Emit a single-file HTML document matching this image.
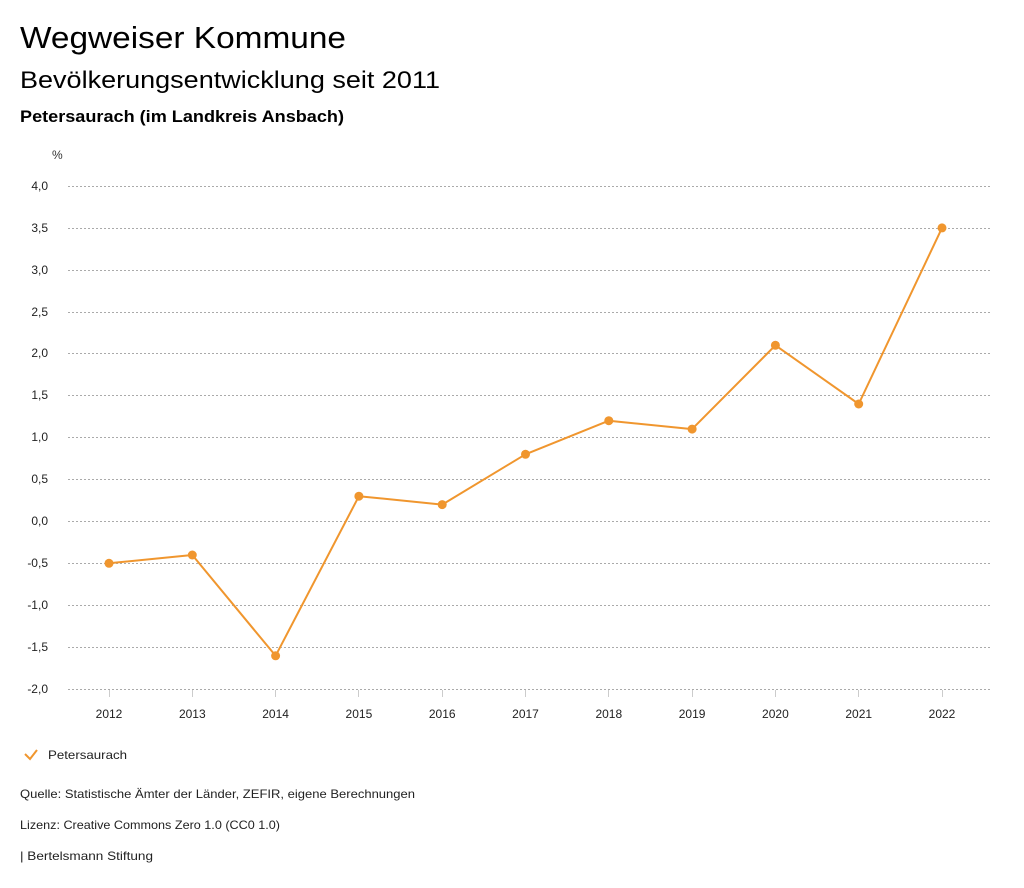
<!DOCTYPE html>
<html><head><meta charset="utf-8"><style>
body{margin:0;background:#fff;font-family:"Liberation Sans","DejaVu Sans",sans-serif;}
svg{display:block}
</style></head><body>
<svg width="1024" height="888" xmlns="http://www.w3.org/2000/svg" font-family="Liberation Sans, DejaVu Sans, sans-serif">
<text x="20" y="48" font-size="31" fill="#000" textLength="326" lengthAdjust="spacingAndGlyphs">Wegweiser Kommune</text>
<text x="20" y="88" font-size="24" fill="#000" textLength="420" lengthAdjust="spacingAndGlyphs">Bevölkerungsentwicklung seit 2011</text>
<text x="20" y="122" font-size="17" font-weight="bold" fill="#000" textLength="324" lengthAdjust="spacingAndGlyphs">Petersaurach (im Landkreis Ansbach)</text>
<text x="52" y="159" font-size="12" fill="#333">%</text>
<g stroke="#aaa" stroke-width="1" stroke-dasharray="2,2">
<line x1="68" x2="990" y1="186.5" y2="186.5"/><line x1="68" x2="990" y1="228.5" y2="228.5"/>
<line x1="68" x2="990" y1="270.5" y2="270.5"/><line x1="68" x2="990" y1="312.5" y2="312.5"/>
<line x1="68" x2="990" y1="353.5" y2="353.5"/><line x1="68" x2="990" y1="395.5" y2="395.5"/>
<line x1="68" x2="990" y1="437.5" y2="437.5"/><line x1="68" x2="990" y1="479.5" y2="479.5"/>
<line x1="68" x2="990" y1="521.5" y2="521.5"/><line x1="68" x2="990" y1="563.5" y2="563.5"/>
<line x1="68" x2="990" y1="605.5" y2="605.5"/><line x1="68" x2="990" y1="647.5" y2="647.5"/>
<line x1="68" x2="990" y1="689.5" y2="689.5"/>
</g>
<g font-size="12" fill="#222" text-anchor="end">
<text x="48" y="190">4,0</text><text x="48" y="232">3,5</text><text x="48" y="274">3,0</text>
<text x="48" y="316">2,5</text><text x="48" y="357">2,0</text><text x="48" y="399">1,5</text>
<text x="48" y="441">1,0</text><text x="48" y="483">0,5</text><text x="48" y="525">0,0</text>
<text x="48" y="567">-0,5</text><text x="48" y="609">-1,0</text><text x="48" y="651">-1,5</text>
<text x="48" y="693">-2,0</text>
</g>
<g stroke="#ccc" stroke-width="1">
<line x1="109.5" x2="109.5" y1="690" y2="697"/><line x1="192.5" x2="192.5" y1="690" y2="697"/>
<line x1="275.5" x2="275.5" y1="690" y2="697"/><line x1="358.5" x2="358.5" y1="690" y2="697"/>
<line x1="442.5" x2="442.5" y1="690" y2="697"/><line x1="525.5" x2="525.5" y1="690" y2="697"/>
<line x1="608.5" x2="608.5" y1="690" y2="697"/><line x1="692.5" x2="692.5" y1="690" y2="697"/>
<line x1="775.5" x2="775.5" y1="690" y2="697"/><line x1="858.5" x2="858.5" y1="690" y2="697"/>
<line x1="942.5" x2="942.5" y1="690" y2="697"/>
</g>
<g font-size="12" fill="#222" text-anchor="middle">
<text x="109" y="718">2012</text><text x="192.3" y="718">2013</text><text x="275.6" y="718">2014</text>
<text x="358.9" y="718">2015</text><text x="442.2" y="718">2016</text><text x="525.5" y="718">2017</text>
<text x="608.8" y="718">2018</text><text x="692.1" y="718">2019</text><text x="775.4" y="718">2020</text>
<text x="858.7" y="718">2021</text><text x="942" y="718">2022</text>
</g>
<polyline fill="none" stroke="#f0962e" stroke-width="2" stroke-linejoin="round" points="109,563.3 192.3,555 275.6,655.8 358.9,496.2 442.2,504.6 525.5,454.3 608.8,420.7 692.1,429.1 775.4,345.3 858.7,404 942,227.9"/>
<g fill="#f0962e">
<circle cx="109" cy="563.3" r="4.5"/><circle cx="192.3" cy="555" r="4.5"/><circle cx="275.6" cy="655.8" r="4.5"/>
<circle cx="358.9" cy="496.2" r="4.5"/><circle cx="442.2" cy="504.6" r="4.5"/><circle cx="525.5" cy="454.3" r="4.5"/>
<circle cx="608.8" cy="420.7" r="4.5"/><circle cx="692.1" cy="429.1" r="4.5"/><circle cx="775.4" cy="345.3" r="4.5"/>
<circle cx="858.7" cy="404" r="4.5"/><circle cx="942" cy="227.9" r="4.5"/>
</g>
<polyline fill="none" stroke="#f0962e" stroke-width="2" points="25,754 30,759 37,750"/>
<text x="48" y="759" font-size="12" fill="#222" textLength="79" lengthAdjust="spacingAndGlyphs">Petersaurach</text>
<text x="20" y="798" font-size="12" fill="#222" textLength="395" lengthAdjust="spacingAndGlyphs">Quelle: Statistische Ämter der Länder, ZEFIR, eigene Berechnungen</text>
<text x="20" y="829" font-size="12" fill="#222" textLength="260" lengthAdjust="spacingAndGlyphs">Lizenz: Creative Commons Zero 1.0 (CC0 1.0)</text>
<text x="20" y="860" font-size="12" fill="#222" textLength="133" lengthAdjust="spacingAndGlyphs">| Bertelsmann Stiftung</text>
</svg>
</body></html>
